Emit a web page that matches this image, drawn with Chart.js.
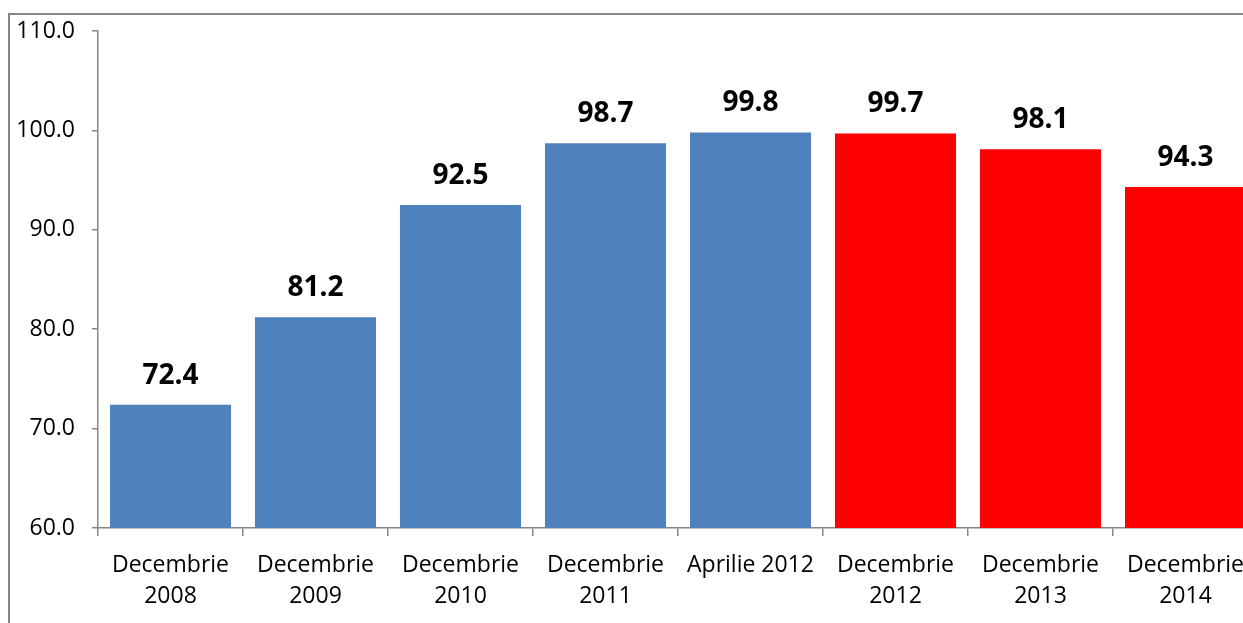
<!DOCTYPE html>
<html>
<head>
<meta charset="utf-8">
<script src="https://cdn.jsdelivr.net/npm/chart.js@4.4.1/dist/chart.umd.min.js"></script>
<style>
  html, body { margin: 0; padding: 0; background: #ffffff; overflow: hidden; width: 1243px; height: 623px; }
  #frame { position: absolute; left: 8px; top: 13px; width: 1400px; height: 800px; border: 2px solid #868686; box-sizing: border-box; }
  #c { position: absolute; left: 0; top: 0; }
</style>
</head>
<body>
<div id="frame"></div>
<canvas id="c" width="1260" height="623"></canvas>
<script>
const categories = [
  ['Decembrie', '2008'],
  ['Decembrie', '2009'],
  ['Decembrie', '2010'],
  ['Decembrie', '2011'],
  'Aprilie 2012',
  ['Decembrie', '2012'],
  ['Decembrie', '2013'],
  ['Decembrie', '2014']
];
const values = [72.4, 81.2, 92.5, 98.7, 99.8, 99.7, 98.1, 94.3];
const barColors = ['#4F81BD', '#4F81BD', '#4F81BD', '#4F81BD', '#4F81BD', '#FF0000', '#FF0000', '#FF0000'];
const yMin = 60, yMax = 110, yStep = 10;

const valueLabels = {
  id: 'valueLabels',
  afterDatasetsDraw(chart) {
    const ctx = chart.ctx;
    const meta = chart.getDatasetMeta(0);
    ctx.save();
    ctx.font = 'bold 28px "Open Sans"';
    ctx.fillStyle = '#000000';
    ctx.textAlign = 'center';
    ctx.textBaseline = 'alphabetic';
    meta.data.forEach((bar, i) => {
      ctx.fillText(values[i].toFixed(1), bar.x, bar.y - 21);
    });
    ctx.restore();
  }
};

new Chart(document.getElementById('c'), {
  type: 'bar',
  data: {
    labels: categories,
    datasets: [{
      data: values,
      backgroundColor: barColors,
      borderWidth: 0,
      barPercentage: 0.835,
      categoryPercentage: 1.0
    }]
  },
  options: {
    responsive: false,
    devicePixelRatio: 1,
    animation: false,
    layout: { padding: { top: 31, right: 2, bottom: 0, left: 0 } },
    plugins: { legend: { display: false }, tooltip: { enabled: false } },
    scales: {
      x: {
        offset: true,
        grid: { display: true, drawOnChartArea: false, offset: true, color: '#868686', tickLength: 8, lineWidth: 1.5 },
        border: { display: true, color: '#868686', width: 1.5 },
        ticks: { color: '#000000', font: { family: '"Open Sans"', size: 23, lineHeight: 1.35 }, padding: 14, maxRotation: 0, autoSkip: false },
        afterFit: (s) => { s.height = 95; }
      },
      y: {
        min: yMin, max: yMax,
        grid: { display: true, drawOnChartArea: false, color: '#868686', tickLength: 6, lineWidth: 1.5 },
        border: { display: true, color: '#868686', width: 1.5 },
        ticks: { stepSize: yStep, color: '#000000', font: { family: '"Open Sans"', size: 23 }, padding: 17,
                 callback: (v) => Number(v).toFixed(1) },
        afterFit: (s) => { s.width = 98; }
      }
    }
  },
  plugins: [valueLabels]
});
</script>
</body>
</html>
